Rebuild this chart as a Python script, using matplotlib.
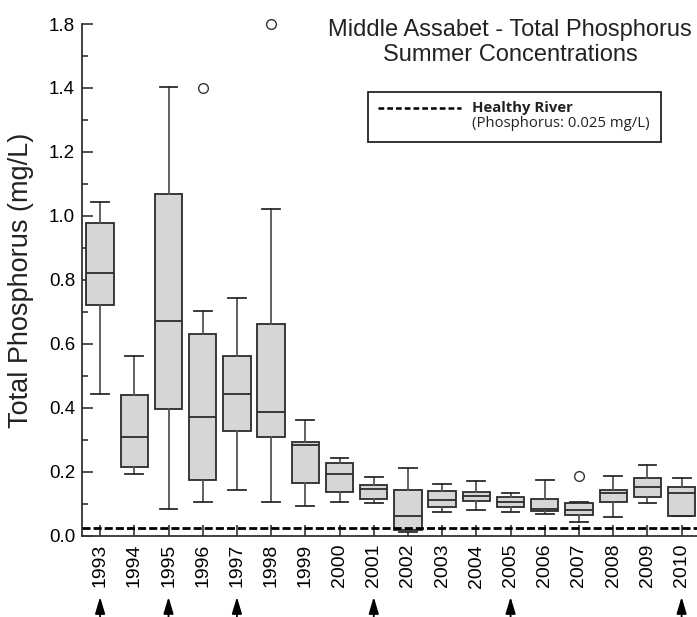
import numpy as np
import matplotlib
matplotlib.use('Agg')
import matplotlib.pyplot as plt
from matplotlib.patches import Rectangle
from matplotlib.lines import Line2D

plt.rcParams['font.family'] = ['Liberation Sans', 'DejaVu Sans']

years = list(range(1993, 2011))
whis_lo = [0.442, 0.192, 0.082, 0.104, 0.142, 0.104, 0.092, 0.104, 0.103, 0.012,
           0.073, 0.081, 0.073, 0.068, 0.042, 0.058, 0.103, 0.061]
q1 = [0.720, 0.215, 0.395, 0.173, 0.328, 0.309, 0.164, 0.135, 0.113, 0.017,
      0.088, 0.108, 0.090, 0.077, 0.065, 0.106, 0.121, 0.061]
med = [0.822, 0.307, 0.672, 0.372, 0.442, 0.387, 0.283, 0.192, 0.146, 0.062,
       0.112, 0.124, 0.105, 0.084, 0.081, 0.134, 0.153, 0.132]
q3 = [0.977, 0.439, 1.069, 0.629, 0.562, 0.662, 0.292, 0.226, 0.157, 0.142,
      0.138, 0.137, 0.121, 0.114, 0.101, 0.144, 0.181, 0.152]
whis_hi = [1.043, 0.562, 1.405, 0.703, 0.743, 1.023, 0.363, 0.243, 0.182, 0.212,
           0.162, 0.171, 0.134, 0.174, 0.105, 0.185, 0.220, 0.181]
outliers = {1996: [1.40], 1998: [1.80], 2007: [0.185]}
arrow_years = [1993, 1995, 1997, 2001, 2005, 2010]
healthy_level = 0.025

ytick_vals = [0.0, 0.2, 0.4, 0.6, 0.8, 1.0, 1.2, 1.4, 1.8]
ytick_minor = [0.1, 0.3, 0.5, 0.7, 0.9, 1.1, 1.3, 1.6]


# axis is squeezed above 1.4 (1.8 sits where 1.6 would be)
def fwd(y):
    y = np.asarray(y, dtype=float)
    return np.where(y <= 1.4, y, 1.4 + (y - 1.4) / 2)


def inv(t):
    t = np.asarray(t, dtype=float)
    return np.where(t <= 1.4, t, 1.4 + (t - 1.4) * 2)


fig = plt.figure(figsize=(6.97, 6.17), dpi=100)
ax = fig.add_axes([0.1176, 0.132, 0.8824, 0.829])

stats = []
for i, y in enumerate(years):
    stats.append(dict(med=med[i], q1=q1[i], q3=q3[i], whislo=whis_lo[i],
                      whishi=whis_hi[i], fliers=outliers.get(y, []), label=str(y)))

edge = '#2b2b2b'
wcol = '#555555'
bp = ax.bxp(stats, positions=np.arange(len(years)), widths=0.8, patch_artist=True,
            boxprops=dict(facecolor='#d5d6d8', edgecolor=edge, linewidth=1.3),
            medianprops=dict(color=edge, linewidth=1.3),
            whiskerprops=dict(color=wcol, linewidth=1.3),
            capprops=dict(color=edge, linewidth=1.3),
            capwidths=0.52,
            flierprops=dict(marker='o', markersize=7, markerfacecolor='none',
                            markeredgecolor='#333333', markeredgewidth=1.0))
for f in bp['fliers']:
    f.set_clip_on(False)

ax.axhline(healthy_level, color='black', lw=2.0, ls=(0, (2.9, 1.1)), zorder=5)

ax.set_yscale('function', functions=(fwd, inv))
ax.set_ylim(0, 1.8)
ax.set_xlim(-0.53, 17.45)
ax.set_yticks(ytick_vals)
ax.set_yticklabels(['%.1f' % v for v in ytick_vals])
ax.set_yticks(ytick_minor, minor=True)
ax.set_xticks(np.arange(len(years)))
ax.set_xticklabels([str(y) for y in years], rotation=90)

for s in ['top', 'right']:
    ax.spines[s].set_visible(False)
for s in ['left', 'bottom']:
    ax.spines[s].set_color('#333333')
    ax.spines[s].set_linewidth(1.3)

ax.tick_params(axis='y', which='major', direction='in', length=8, width=1.2,
               color='#333333', labelsize=13.5, pad=5)
ax.tick_params(axis='y', which='minor', direction='in', length=4, width=1.2,
               color='#333333')
ax.tick_params(axis='x', which='major', direction='in', length=8, width=1.2,
               color='#333333', labelsize=14, pad=6)

fig.text(21 / 697, 0.545, 'Total Phosphorus (mg/L)', rotation=90,
         ha='center', va='center', fontsize=19.5, color='#222222')

fig.text(0.732, 0.931, 'Middle Assabet - Total Phosphorus\nSummer Concentrations',
         ha='center', va='center', fontsize=17, color='#222222', linespacing=1.2)

# legend box
fig.patches.append(Rectangle((0.528, 0.770), 0.420, 0.081, transform=fig.transFigure,
                             fill=False, edgecolor='#222222', linewidth=1.3))
fig.lines.append(Line2D([378 / 697, 461 / 697], [0.825, 0.825], transform=fig.transFigure,
                        color='black', lw=1.8, ls=(0, (2.3, 1.2))))
fig.text(472 / 697, 0.825, 'Healthy River', ha='left', va='center',
         fontsize=10.7, fontweight='bold', family=['Open Sans', 'DejaVu Sans'],
         color='#222222')
fig.text(472 / 697, 0.800, '(Phosphorus: 0.025 mg/L)', ha='left', va='center',
         fontsize=10.7, family=['Open Sans', 'DejaVu Sans'], color='#222222')

# arrows under selected years
for y in arrow_years:
    i = years.index(y)
    ax.annotate('', xy=(i, -0.12), xytext=(i, -0.25),
                xycoords=ax.get_xaxis_transform(), textcoords=ax.get_xaxis_transform(),
                annotation_clip=False,
                arrowprops=dict(arrowstyle='-|>,head_length=1.0,head_width=0.3',
                                color='black', lw=1.3, shrinkA=0, shrinkB=0))

fig.savefig('out.png', dpi=100)
